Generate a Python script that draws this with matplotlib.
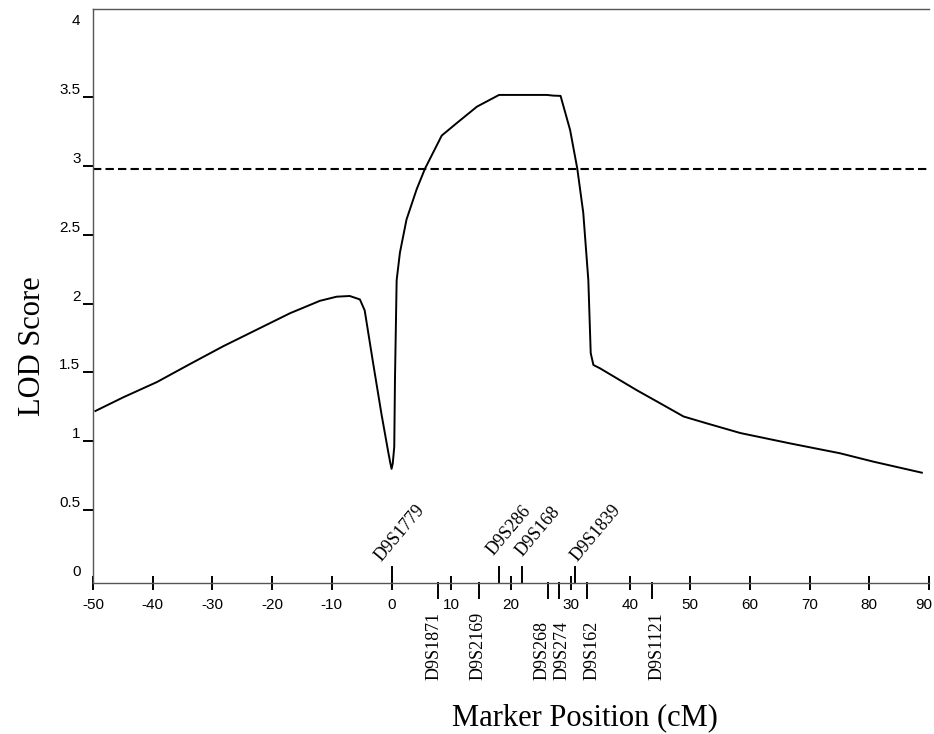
import matplotlib
matplotlib.use("Agg")
import matplotlib.pyplot as plt
from matplotlib import transforms as mtrans

# ---- data ----
pos_cm = [-49.6, -44.9, -39.3, -33.8, -28.2, -22.6, -17.0, -12.0, -9.2, -7.0,
          -5.3, -4.5, -3.1, -1.7, -0.55, -0.2, 0.0, 0.2, 0.45, 0.57, 0.85, 1.4,
          2.5, 4.2, 5.6, 8.4, 10.9, 14.3, 18.0, 26.0, 27.1, 28.3, 29.9, 31.1,
          32.1, 32.95, 33.35, 33.8, 34.9, 41.1, 44.4, 48.9, 52.8, 58.4, 66.7,
          75.1, 80.7, 88.8]
lod = [1.22, 1.32, 1.43, 1.56, 1.69, 1.81, 1.93, 2.02, 2.05, 2.055,
       2.03, 1.95, 1.57, 1.20, 0.92, 0.84, 0.80, 0.84, 0.96, 1.45, 2.17, 2.37,
       2.61, 2.83, 2.98, 3.22, 3.31, 3.43, 3.515, 3.515, 3.51, 3.508, 3.26, 2.98,
       2.66, 2.17, 1.64, 1.554, 1.53, 1.37, 1.29, 1.18, 1.13, 1.06, 0.985,
       0.913, 0.852, 0.772]
threshold = 2.98

xticks = [-50, -40, -30, -20, -10, 0, 10, 20, 30, 40, 50, 60, 70, 80, 90]
yticks = [0, 0.5, 1, 1.5, 2, 2.5, 3, 3.5, 4]
ytick_labels = ["0", "0.5", "1", "1.5", "2", "2.5", "3", "3.5", "4"]

markers_above = ["D9S1779", "D9S286", "D9S168", "D9S1839"]
markers_above_pos = [0.0, 18.0, 21.8, 30.8]
markers_below = ["D9S1871", "D9S2169", "D9S268", "D9S274", "D9S162", "D9S1121"]
markers_below_pos = [7.7, 14.6, 26.2, 28.0, 32.8, 43.6]

# ---- style ----
above_offsets_px = [(-9.6, 21), (-5.3, 27), (1.0, 26), (2.3, 21)]
below_offsets_px = [-4, -1, -6, 3, 5, 5]
serif = ["Liberation Serif", "DejaVu Serif"]
sans = ["Liberation Sans", "DejaVu Sans"]

W, H = 934, 734
fig = plt.figure(figsize=(W / 100, H / 100), dpi=100)
ax = fig.add_axes([93 / W, 1 - 583 / H, (929 - 93) / W, (583 - 9) / H])
ax.set_xlim(-50, 90)
ax.set_ylim(-0.029, 4.139)

ax.plot(pos_cm, lod, color="black", lw=1.4, solid_joinstyle="round")
ax.axhline(threshold, color="black", lw=1.5, linestyle=(0, (4, 2)))

ax.spines["right"].set_visible(False)
for s in ["left", "bottom", "top"]:
    ax.spines[s].set_color("#555555")
    ax.spines[s].set_linewidth(1.0)

ax.set_xticks(xticks)
ax.set_xticklabels([str(t) for t in xticks], fontfamily=sans, fontsize=11)
ax.tick_params(axis="x", direction="inout", length=10, width=1.4, color="black",
               pad=6)
last = ax.get_xticklabels()[-1]
last.set_transform(last.get_transform() +
                   mtrans.ScaledTranslation(-5 / 100, 0, fig.dpi_scale_trans))
ax.set_yticks(yticks)
ax.set_yticklabels(ytick_labels, fontfamily=sans, fontsize=11)
ax.tick_params(axis="y", direction="out", length=7, width=1.4, color="black",
               pad=2)
for lab in ax.get_yticklabels():
    lab.set_verticalalignment("bottom")
yt = ax.yaxis.get_major_ticks()
yt[0].tick1line.set_visible(False)
yt[-1].tick1line.set_visible(False)

# marker ticks
axh = 583 - 9
bx = mtrans.blended_transform_factory(ax.transData, ax.transAxes)
for p in markers_above_pos:
    ax.plot([p, p], [0, 16 / axh], color="black", lw=1.4, transform=bx,
            clip_on=False)
for p in markers_below_pos:
    ax.plot([p, p], [0, -15 / axh], color="black", lw=1.4, transform=bx,
            clip_on=False)

for name, p, (dx, dy) in zip(markers_above, markers_above_pos, above_offsets_px):
    tr = mtrans.offset_copy(bx, fig=fig, x=dx, y=dy, units="dots")
    ax.text(p, 0, name, transform=tr, rotation=50, rotation_mode="anchor",
            ha="left", va="baseline", fontfamily=serif, fontsize=13,
            clip_on=False)

bf = mtrans.blended_transform_factory(ax.transData, fig.transFigure)
for name, p, dx in zip(markers_below, markers_below_pos, below_offsets_px):
    tr = mtrans.offset_copy(bf, fig=fig, x=dx, y=0, units="dots")
    ax.text(p, 1 - 680 / H, name, transform=tr, rotation=90, ha="center",
            va="bottom", fontfamily=serif, fontsize=13, clip_on=False)

fig.text(32 / W, 1 - 346 / H, "LOD Score", rotation=90, ha="center",
         va="center", fontfamily=serif, fontsize=22)
fig.text(585 / W, 1 - 718 / H, "Marker Position (cM)", ha="center",
         va="center", fontfamily=serif, fontsize=22)

fig.savefig("out.png", dpi=100)
